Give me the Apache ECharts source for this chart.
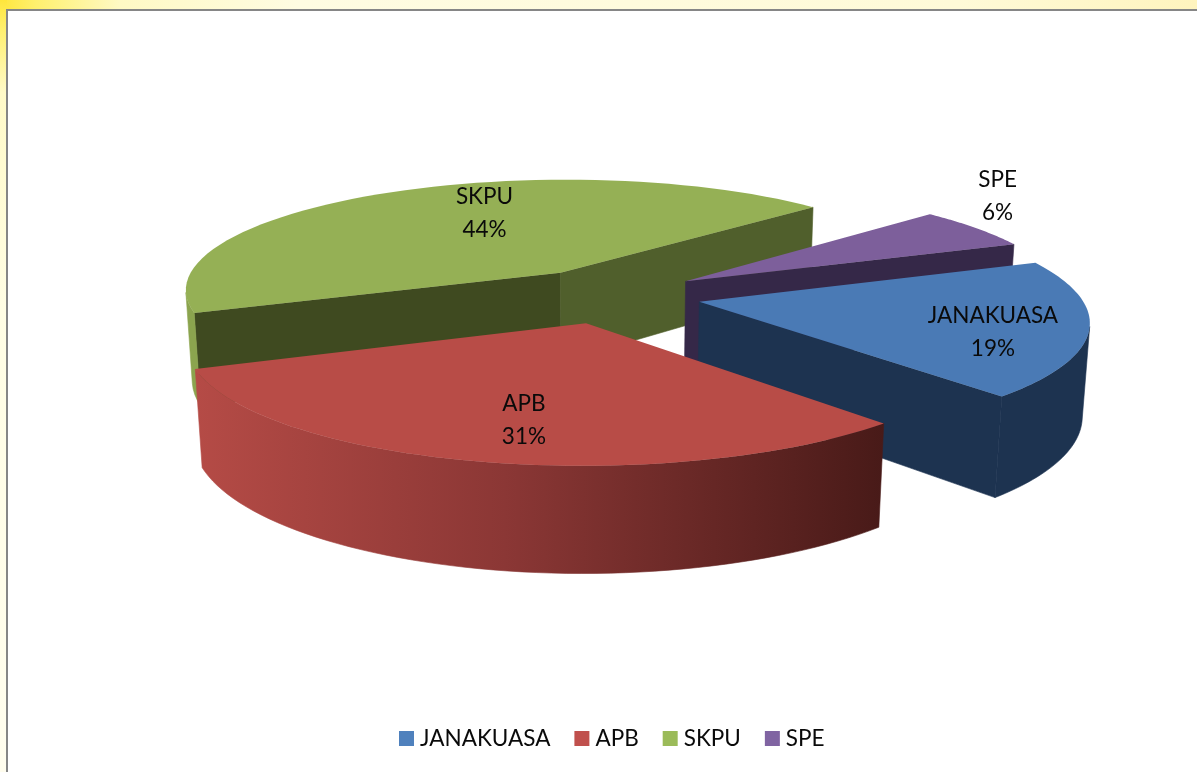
<!DOCTYPE html>
<html><head><meta charset="utf-8">
<style>html,body{margin:0;padding:0;background:#fff}#c{width:1197px;height:772px}</style>
<script src="https://cdn.jsdelivr.net/npm/echarts@6/dist/echarts.min.js"></script>
</head><body><div id="c"></div>
<script>
const categories = ['JANAKUASA','APB','SKPU','SPE'];
const values = [19,31,44,6];

const topColors = ['#4A7AB5','#B84C47','#95B055','#7D5F9B'];
const legendColors = ['#4F81BD','#C0504D','#9BBB59','#8064A2'];
const drawOrder = [3,4,1,2];
const startWallColors = ['#1D3350','#4A1C1A','#3F4A20','#352848'];
const endWallColors = ['#1D3350','#4A1C1A','#505F2C','#352848'];
const labelPlace = [[0.77,6],[0.73,-2.6],[0.65,10.7],[1.31,-10.7]];

const FONT = 'Lato, "Open Sans", sans-serif';
const CX=608, CY=295.5, R=381, H=97, EXPLODE=93, FIRST=69, Z_PERSP=0.4;
const SIN_E=0.296, COS_E=Math.sqrt(1-SIN_E*SIN_E), DIST=2500, SCALE=1;
const STEPS=60;
const total = values.reduce((a,b)=>a+b,0);

function project(X,Y,Z){
  const v=Y*COS_E+Z*Z_PERSP, s=SCALE*DIST/(DIST-v);
  return [CX+X*s, CY+(Y*SIN_E-Z*COS_E)*s];
}
const rad=d=>d*Math.PI/180;
function area(p){let a=0;for(let i=0;i<p.length;i++){const q=p[(i+1)%p.length];a+=p[i][0]*q[1]-q[0]*p[i][1];}return a;}
function outerFill(i){
  if(i===0) return '#1D3350';
  if(i===1) return new echarts.graphic.LinearGradient(0,0,1,0,[
    {offset:0,color:'#B54B46'},{offset:0.45,color:'#8B3735'},{offset:1,color:'#481A18'}]);
  if(i===2) return '#8BA44E';
  return '#352848';
}
function sliceAngles(i){
  let a=FIRST; for(let k=0;k<i;k++) a+=values[k]/total*360;
  return [a,a+values[i]/total*360];
}
function makeRender(i){
  return function(params,api){
    const val=api.value(0);
    const [a0]=sliceAngles(i), a1=a0+val/total*360, mid=(a0+a1)/2;
    const ox=EXPLODE*Math.sin(rad(mid)), oy=-EXPLODE*Math.cos(rad(mid));
    const P=(r,deg,z)=>project(ox+r*Math.sin(rad(deg)),oy-r*Math.cos(rad(deg)),z);
    const topPts=[P(0,0,0)], children=[];
    const rimT=[],rimB=[];
    for(let k=0;k<=STEPS;k++){const d=a0+(a1-a0)*k/STEPS;rimT.push(P(R,d,0));rimB.push(P(R,d,-H));topPts.push(rimT[k]);}
    const poly=(pts,fill,edge)=>({type:'polygon',shape:{points:pts},style:{fill,stroke:edge?fill:null,lineWidth:edge?0.6:0}});
    const apexT=P(0,0,0),apexB=P(0,0,-H);
    const w0=[apexT,rimT[0],rimB[0],apexB];
    if(area(w0)<0) children.push(poly(w0,startWallColors[i],true));
    const w1=[rimT[STEPS],apexT,apexB,rimB[STEPS]];
    if(area(w1)<0) children.push(poly(w1,endWallColors[i],true));
    let run=[];
    const flush=()=>{ if(run.length){ const t=run.map(k=>rimT[k]), b=run.map(k=>rimB[k]).reverse();
        children.push(poly(t.concat(b),outerFill(i),true)); run=[]; } };
    for(let k=0;k<STEPS;k++){
      const vis=area([rimT[k],rimT[k+1],rimB[k+1],rimB[k]])<0;
      if(vis){ if(!run.length) run.push(k); run.push(k+1);} else flush();
    }
    flush();
    children.push(poly(topPts,topColors[i],false));
    const lp=labelPlace[i], lpos=P(R*lp[0],mid+lp[1],0);
    children.push({type:'text',style:{x:lpos[0],y:lpos[1],
      text:categories[i]+'\n'+Math.round(val/total*100)+'%',
      align:'center',verticalAlign:'middle',font:'22.5px '+FONT,lineHeight:33,fill:'#0a0a0a'}});
    return {type:'group',children};
  };
}
const chart=echarts.init(document.getElementById('c'),null,{renderer:'canvas'});
chart.setOption({
  animation:false,
  backgroundColor:'#fff',
  legend:{data:categories,left:394,bottom:17,icon:'rect',itemWidth:15,itemHeight:15,itemGap:24,
    selectedMode:false,textStyle:{fontFamily:FONT,fontSize:22.5,color:'#0a0a0a',padding:[0,0,0,1]}},
  graphic:[
    {type:'rect',z:-10,shape:{x:0,y:0,width:1197,height:772},style:{fill:'#FFFCE6'}},
    {type:'rect',z:-9,shape:{x:0,y:0,width:1197,height:10},style:{fill:new echarts.graphic.LinearGradient(0,0,1,0,[
      {offset:0,color:'#FFE63C'},{offset:0.03,color:'#FFF06E'},{offset:0.1,color:'#FFF9C4'},{offset:0.25,color:'#FFFCE2'},{offset:0.8,color:'#FFFAD8'},{offset:1,color:'#FFF4BE'}])}},
    {type:'rect',z:-9,shape:{x:0,y:0,width:7,height:772},style:{fill:new echarts.graphic.LinearGradient(0,0,0,1,[
      {offset:0,color:'#FFE63C'},{offset:0.04,color:'#FFF070'},{offset:0.12,color:'#FFFAC8'},{offset:0.4,color:'#FFFDE4'},{offset:1,color:'#FFFDEE'}])}},
    {type:'rect',z:-8,shape:{x:7,y:10,width:1200,height:770},style:{fill:'#fff',stroke:'#868686',lineWidth:2}}
  ],
  series:categories.map((name,i)=>({
    type:'custom',name,coordinateSystem:'none',z:drawOrder[i]+2,
    itemStyle:{color:legendColors[i]},
    data:[[values[i]]],
    renderItem:makeRender(i),silent:true
  }))
});
</script></body></html>
